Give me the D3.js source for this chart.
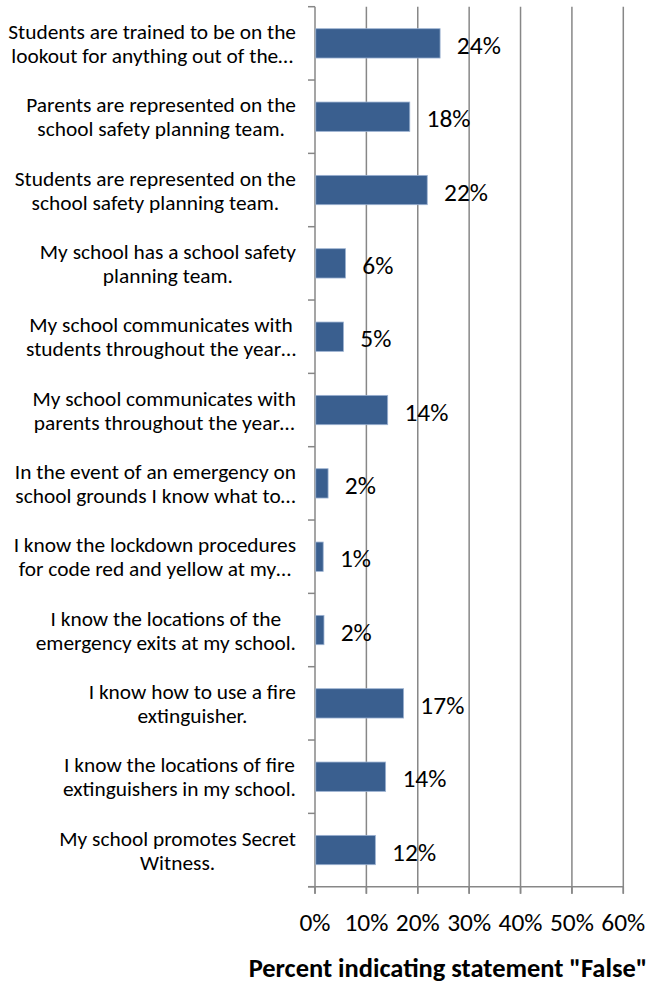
<!DOCTYPE html>
<html><head><meta charset="utf-8">
<script src="https://cdn.jsdelivr.net/npm/d3@7"></script>
<style>
html,body{margin:0;padding:0;background:#fff;}
svg{display:block;}
text{font-family:Carlito, Calibri, "Open Sans", Lato, sans-serif;fill:#000;}
</style></head>
<body>
<svg id="chart" width="650" height="983"></svg>
<script>
const categories = [
  ["Students are trained to be on the", "lookout for anything out of the…"],
  ["Parents are represented on the", "school safety planning team."],
  ["Students are represented on the", "school safety planning team."],
  ["My school has a school safety", "planning team."],
  ["My school communicates with", "students throughout the year…"],
  ["My school communicates with", "parents throughout the year…"],
  ["In the event of an emergency on", "school grounds I know what to…"],
  ["I know the lockdown procedures", "for code red and yellow at my…"],
  ["I know the locations of the", "emergency exits at my school."],
  ["I know how to use a fire", "extinguisher."],
  ["I know the locations of fire", "extinguishers in my school."],
  ["My school promotes Secret", "Witness."]
];
const values = [24.2, 18.3, 21.7, 5.8, 5.4, 14.0, 2.4, 1.45, 1.6, 17.1, 13.6, 11.6];
const valueLabels = ["24%", "18%", "22%", "6%", "5%", "14%", "2%", "1%", "2%", "17%", "14%", "12%"];
const xTicks = [0, 10, 20, 30, 40, 50, 60];
const xTitle = 'Percent indicating statement "False"';

(function () {
const svg = d3.select("#chart");
const pLeft = 315, pRight = 623.3, pTop = 6.7, pBottom = 886.7;
const x = d3.scaleLinear().domain([0, 60]).range([pLeft, pRight]);
const y = d3.scaleBand().domain(d3.range(categories.length)).range([pTop, pBottom]).paddingInner(0.6).paddingOuter(0.3);
const yb = d3.scaleBand().domain(d3.range(categories.length)).range([pTop, pBottom]);
const grid = "#878787";

// font size fitting helper: size so that `str` renders `target` px wide
function fit(str, target, weight) {
  const t = svg.append("text").attr("font-size", 100).attr("font-weight", weight || "normal").text(str);
  const w = t.node().getComputedTextLength();
  t.remove();
  return 100 * target / w;
}
const catSize = fit(categories[0][0], 288);
const numSize = fit("24%", 44);
const titleSize = fit(xTitle, 399, "bold");

svg.append("g").selectAll("line").data(xTicks.slice(1)).join("line")
  .attr("x1", d => x(d)).attr("x2", d => x(d))
  .attr("y1", pTop).attr("y2", pBottom + 7)
  .attr("stroke", grid).attr("stroke-width", 1.5);

svg.append("line").attr("x1", pLeft - 7).attr("x2", pRight).attr("y1", pBottom).attr("y2", pBottom)
  .attr("stroke", grid).attr("stroke-width", 1.5);
svg.append("g").selectAll("line").data(xTicks).join("line")
  .attr("x1", d => x(d)).attr("x2", d => x(d)).attr("y1", pBottom).attr("y2", pBottom + 7)
  .attr("stroke", grid).attr("stroke-width", 1.5);

svg.append("line").attr("x1", pLeft).attr("x2", pLeft).attr("y1", pTop).attr("y2", pBottom + 7)
  .attr("stroke", grid).attr("stroke-width", 1.5);
const bounds = d3.range(categories.length + 1).map(i => i < categories.length ? yb(i) : pBottom);
svg.append("g").selectAll("line").data(bounds).join("line")
  .attr("x1", pLeft - 7).attr("x2", pLeft).attr("y1", d => d).attr("y2", d => d)
  .attr("stroke", grid).attr("stroke-width", 1.5);

svg.append("g").selectAll("rect").data(values).join("rect")
  .attr("x", x(0) + 0.75).attr("y", (d, i) => y(i))
  .attr("width", d => x(d) - x(0)).attr("height", y.bandwidth())
  .attr("fill", "#3A5F8F").attr("stroke", "#9DB3D2").attr("stroke-width", 0.8);

svg.append("g").selectAll("text").data(values).join("text")
  .attr("x", d => x(d) + 17.5).attr("y", (d, i) => y(i) + y.bandwidth() / 2 + 1.5)
  .attr("dy", "0.36em").attr("font-size", numSize)
  .text((d, i) => valueLabels[i]);

const labelRight = 296;
categories.forEach((lines, i) => {
  const g = svg.append("g");
  const cy = yb(i) + yb.bandwidth() / 2;
  const ts = lines.map((t, j) => g.append("text").attr("font-size", catSize)
    .attr("y", cy + (j - (lines.length - 1) / 2) * 24).attr("dy", "0.36em")
    .attr("text-anchor", "middle").text(t));
  const w = d3.max(ts, t => t.node().getComputedTextLength());
  ts.forEach(t => t.attr("x", labelRight - w / 2));
});

svg.append("g").selectAll("text").data(xTicks).join("text")
  .attr("x", d => x(d)).attr("y", 921.7).attr("dy", "0.36em")
  .attr("text-anchor", "middle").attr("font-size", numSize)
  .text(d => d + "%");

svg.append("text").attr("x", 448).attr("y", 967).attr("dy", "0.36em")
  .attr("text-anchor", "middle").attr("font-size", titleSize).attr("font-weight", "bold")
  .text(xTitle);
})();
</script>
</body></html>
